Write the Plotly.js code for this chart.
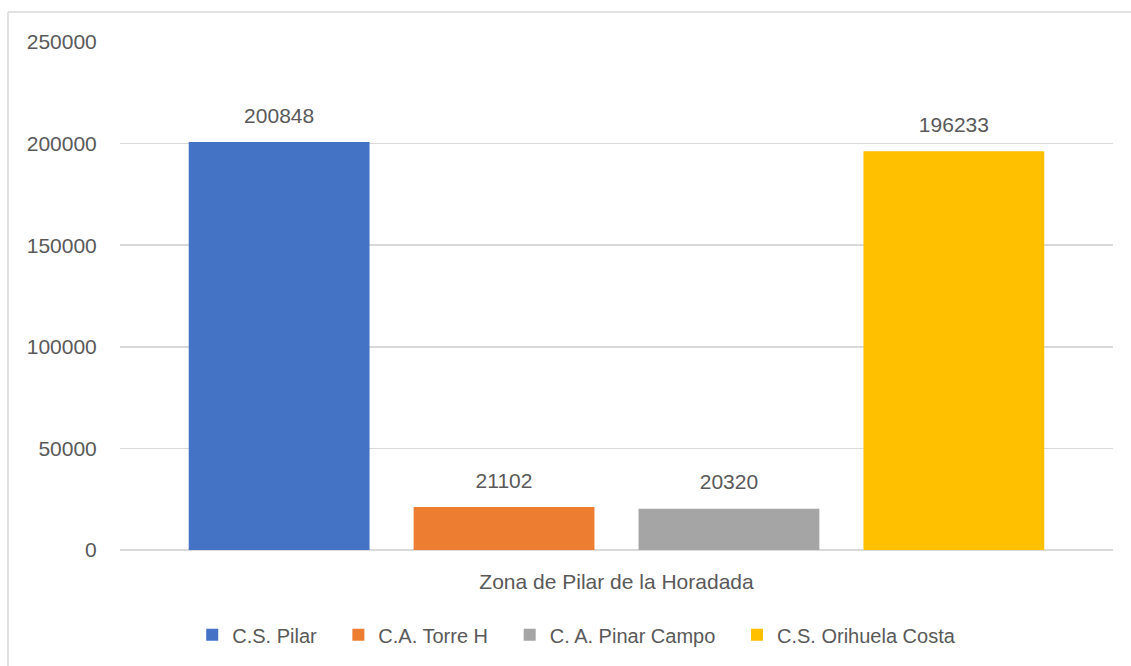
<!DOCTYPE html>
<html>
<head>
<meta charset="utf-8">
<script src="https://cdn.plot.ly/plotly-3.0.1.min.js"></script>
<style>html,body{margin:0;padding:0;background:#fff;}#chart{width:1131px;height:666px;}</style>
</head>
<body>
<div id="chart"></div>
<script>
const category = ["Zona de Pilar de la Horadada"];
const seriesNames = ["C.S. Pilar", "C.A. Torre H", "C. A. Pinar Campo", "C.S. Orihuela Costa"];
const seriesValues = [200848, 21102, 20320, 196233];
const seriesColors = ["#4472C4", "#ED7D31", "#A5A5A5", "#FFC000"];
const yTicks = [0, 50000, 100000, 150000, 200000, 250000];

const textColor = "#595959";
const fontFamily = "'Liberation Sans', Arial, sans-serif";
const pad = "\u00A0\u00A0\u00A0";

const traces = seriesNames.map((name, i) => ({
  type: "bar",
  name: name + pad,
  x: category,
  y: [seriesValues[i]],
  marker: { color: seriesColors[i] },
  text: [String(seriesValues[i])],
  texttemplate: "<span style='font-size:21px'>%{text}</span><br> ",
  textposition: "outside",
  textfont: { family: fontFamily, size: 11, color: textColor },
  cliponaxis: false,
  hoverinfo: "none"
}));

const layout = {
  width: 1131,
  height: 666,
  margin: { l: 120, r: 18, t: 42, b: 116 },
  paper_bgcolor: "#ffffff",
  plot_bgcolor: "#ffffff",
  font: { family: fontFamily, size: 21, color: textColor },
  barmode: "group",
  bargap: 0.094,
  bargroupgap: 0.196,
  showlegend: true,
  legend: {
    orientation: "h",
    x: 0.468,
    xanchor: "center",
    y: -0.167,
    yanchor: "middle",
    font: { family: fontFamily, size: 20, color: textColor },
    traceorder: "normal",
    itemclick: false
  },
  xaxis: {
    type: "category",
    showgrid: false,
    zeroline: false,
    showline: false,
    ticks: "",
    ticklabelstandoff: 17,
    tickfont: { family: fontFamily, size: 21, color: textColor },
    fixedrange: true
  },
  yaxis: {
    range: [0, 250000],
    tickvals: yTicks,
    ticktext: yTicks.map(String),
    showgrid: true,
    gridcolor: "#D9D9D9",
    gridwidth: 1.5,
    zeroline: true,
    zerolinecolor: "#D9D9D9",
    zerolinewidth: 1.5,
    showline: false,
    ticks: "outside",
    ticklen: 18,
    tickcolor: "rgba(0,0,0,0)",
    tickfont: { family: fontFamily, size: 21, color: textColor },
    fixedrange: true
  },
  shapes: [
    { type: "line", xref: "paper", yref: "paper", x0: -0.1128, x1: 1.02, y0: 1.0591, y1: 1.0591, line: { color: "#D9D9D9", width: 1.5 } },
    { type: "line", xref: "paper", yref: "paper", x0: -0.1128, x1: -0.1128, y0: 1.0591, y1: -0.25, line: { color: "#D9D9D9", width: 1.5 } }
  ]
};

Plotly.newPlot("chart", traces, layout, { displayModeBar: false, staticPlot: true });
</script>
</body>
</html>
